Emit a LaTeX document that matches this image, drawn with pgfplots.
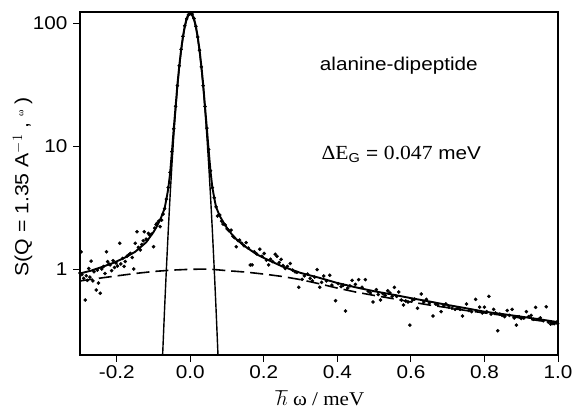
\documentclass[border=0pt]{standalone}
\usepackage{fontspec}
\setmainfont{Liberation Sans}[FakeStretch=1.12]
\newfontfamily\tnr{Liberation Serif}[FakeStretch=1.08]
\usepackage{pgfplots}
\pgfplotsset{compat=1.18}

% measured points
\pgfplotstableread{
x y
-0.300 0.93
-0.297 1.38
-0.295 0.90
-0.290 0.84
-0.286 0.56
-0.283 0.88
-0.280 0.81
-0.276 1.01
-0.273 0.86
-0.270 1.16
-0.265 0.80
-0.262 0.95
-0.256 0.675
-0.253 0.98
-0.250 0.77
-0.245 0.635
-0.241 1.00
-0.236 1.05
-0.232 0.92
-0.228 1.38
-0.225 1.15
-0.221 1.10
-0.218 1.08
-0.214 0.97
-0.210 1.17
-0.206 1.03
-0.202 1.12
-0.198 1.06
-0.192 1.62
-0.189 1.10
-0.184 1.22
-0.180 1.05
-0.177 1.15
-0.172 1.27
-0.168 1.30
-0.163 1.34
-0.158 1.24
-0.154 1.00
-0.150 1.62
-0.145 2.01
-0.141 1.50
-0.136 1.43
-0.132 1.58
-0.128 1.70
-0.125 2.01
-0.120 1.75
-0.118 1.72
-0.114 1.95
-0.111 1.89
-0.106 1.92
-0.100 1.52
-0.097 2.15
-0.093 2.30
-0.091 2.35
-0.086 2.45
-0.082 2.21
-0.078 2.50
-0.074 2.80
-0.070 3.1
-0.065 3.7
-0.060 4.6
-0.055 6.1
-0.050 9.0
-0.045 13.8
-0.040 21
-0.035 31
-0.030 45
-0.025 61
-0.020 78
-0.015 95
-0.010 108
-0.005 117
0.000 121
0.005 118
0.010 109
0.015 94
0.020 77
0.025 60
0.030 44
0.035 31
0.040 21
0.045 14
0.050 9.4
0.055 6.3
0.060 4.6
0.065 3.8
0.070 3.2
0.074 2.70
0.080 2.75
0.085 2.45
0.089 2.32
0.095 2.28
0.100 2.12
0.105 2.05
0.111 2.07
0.116 1.85
0.120 1.80
0.125 1.52
0.130 1.70
0.134 1.72
0.140 1.62
0.146 1.55
0.152 1.64
0.158 1.48
0.163 1.08
0.168 1.08
0.174 1.38
0.180 1.33
0.189 1.45
0.195 1.27
0.201 1.34
0.207 1.18
0.213 1.08
0.218 1.20
0.224 1.15
0.231 1.32
0.236 1.27
0.242 1.13
0.247 1.20
0.252 1.07
0.258 1.01
0.264 1.05
0.272 1.11
0.278 0.98
0.285 0.95
0.290 0.94
0.295 0.71
0.304 0.825
0.310 0.88
0.319 0.91
0.326 0.84
0.332 0.80
0.338 0.86
0.345 0.99
0.352 0.71
0.357 0.78
0.363 0.877
0.370 0.80
0.379 0.89
0.385 0.74
0.395 0.553
0.402 0.76
0.410 0.72
0.416 0.74
0.422 0.456
0.428 0.70
0.434 0.73
0.440 0.81
0.449 0.75
0.458 0.82
0.467 0.71
0.476 0.82
0.484 0.66
0.490 0.64
0.497 0.54
0.506 0.68
0.511 0.62
0.517 0.56
0.524 0.63
0.530 0.61
0.537 0.666
0.543 0.64
0.549 0.60
0.555 0.71
0.561 0.60
0.567 0.65
0.574 0.56
0.580 0.51
0.586 0.55
0.592 0.54
0.597 0.35
0.604 0.56
0.610 0.57
0.618 0.48
0.628 0.626
0.635 0.54
0.642 0.567
0.650 0.53
0.660 0.415
0.667 0.52
0.673 0.51
0.682 0.45
0.689 0.50
0.695 0.52
0.703 0.49
0.712 0.48
0.720 0.47
0.727 0.48
0.734 0.47
0.740 0.415
0.751 0.52
0.758 0.46
0.765 0.45
0.776 0.567
0.787 0.49
0.794 0.44
0.800 0.49
0.806 0.45
0.812 0.60
0.818 0.43
0.825 0.47
0.830 0.44
0.836 0.315
0.842 0.43
0.848 0.42
0.855 0.41
0.862 0.46
0.868 0.42
0.875 0.47
0.881 0.40
0.887 0.35
0.894 0.41
0.900 0.397
0.907 0.40
0.914 0.45
0.920 0.41
0.927 0.42
0.933 0.39
0.939 0.488
0.946 0.39
0.952 0.40
0.960 0.38
0.968 0.494
0.974 0.37
0.980 0.357
0.986 0.36
0.990 0.36
0.996 0.37
0.999 0.36
}\datatab

% total fit
\pgfplotstableread{
x y
-0.30 0.92
-0.27 0.97
-0.24 1.04
-0.21 1.12
-0.18 1.23
-0.15 1.38
-0.12 1.65
-0.10 2.0
-0.09 2.25
-0.08 2.6
-0.07 3.1
-0.065 3.7
-0.06 4.5
-0.055 6.0
-0.05 9.0
-0.045 14
-0.04 21
-0.035 32
-0.03 45
-0.025 61
-0.02 78
-0.015 95
-0.01 109
-0.005 118
0.0 121
0.005 118
0.01 109
0.015 95
0.02 78
0.025 61
0.03 45
0.035 32
0.04 21
0.045 14
0.05 9.2
0.055 6.2
0.06 4.6
0.065 3.8
0.07 3.2
0.08 2.7
0.09 2.4
0.10 2.15
0.12 1.8
0.15 1.52
0.18 1.32
0.20 1.23
0.25 1.05
0.30 0.93
0.35 0.85
0.40 0.77
0.45 0.71
0.50 0.66
0.55 0.62
0.60 0.58
0.65 0.545
0.70 0.51
0.75 0.48
0.80 0.45
0.85 0.43
0.90 0.41
0.95 0.39
1.00 0.37
}\fittab

% elastic (resolution) component
\pgfplotstableread{
x y
-0.085 0.035
-0.08 0.0874
-0.075 0.210
-0.07 0.473
-0.065 1.01
-0.06 2.05
-0.055 3.92
-0.05 7.07
-0.045 12.1
-0.04 19.5
-0.035 29.7
-0.03 42.8
-0.025 58.4
-0.02 75.2
-0.015 91.6
-0.01 105.4
-0.005 114.7
0.0 118
0.005 114.7
0.01 105.4
0.015 91.6
0.02 75.2
0.025 58.4
0.03 42.8
0.035 29.7
0.04 19.5
0.045 12.1
0.05 7.07
0.055 3.92
0.06 2.05
0.065 1.01
0.07 0.473
0.075 0.210
0.08 0.0874
0.085 0.035
}\elastab

% broad component
\pgfplotstableread{
x y
-0.30 0.80
-0.25 0.84
-0.20 0.88
-0.15 0.92
-0.10 0.955
-0.05 0.98
0.00 0.995
0.05 1.0
0.10 0.97
0.15 0.945
0.20 0.91
0.25 0.87
0.30 0.82
0.35 0.76
0.40 0.70
0.45 0.65
0.50 0.61
0.55 0.575
0.60 0.54
0.65 0.51
0.70 0.485
0.75 0.46
0.80 0.44
0.85 0.42
0.90 0.40
0.95 0.38
1.00 0.365
}\broadtab

\begin{document}
\begin{tikzpicture}
\begin{axis}[
  name=ax,
  scale only axis,
  width=478pt, height=343pt,
  xmin=-0.3, xmax=1.0,
  ymode=log, ymin=0.2, ymax=123,
  xtick={-0.2,0,0.2,0.4,0.6,0.8,1.0},
  xticklabels={-0.2,0.0,0.2,0.4,0.6,0.8,1.0},
  ytick={1,10,100},
  yticklabels={1,10,100},
  yminorticks=false,
  tick align=outside,
  xtick pos=bottom, ytick pos=left,
  major tick length=7pt,
  tick style={black, line width=1pt},
  axis line style={line width=1.2pt},
  ticklabel style={font=\fontsize{18.5}{18.5}\selectfont},
  yticklabel style={xshift=-2pt},
  xlabel={$\hbar$ {\tnr ω / meV}},
  xlabel style={font=\fontsize{19.5}{19.5}\selectfont\tnr,
    at={(rel axis cs:0.502,-0.146)}, anchor=base},
  ylabel={S(Q = 1.35 A$^{-1}$ , \raisebox{5pt}{\tnr\small ω} )},
  ylabel style={font=\fontsize{19}{19}\selectfont,
    at={(rel axis cs:-0.12,0.49)}, anchor=center},
  clip=true,
]
\addplot[only marks, mark=*, mark size=1.6pt, black] table {\datatab};
\addplot[black, line width=1.9pt] table {\fittab};
\addplot[black, line width=1.4pt] table {\elastab};
\addplot[black, line width=1.6pt, dash pattern=on 13pt off 6pt] table {\broadtab};
\node[font=\fontsize{18.5}{18.5}\selectfont, anchor=base] at (rel axis cs:0.667,0.828) {alanine-dipeptide};
\node[font=\fontsize{18.5}{18.5}\selectfont, anchor=base] at (rel axis cs:0.672,0.569)
  {{\tnr\fontsize{20}{20}\selectfont ΔE}\textsubscript{G} = {\tnr\fontsize{20}{20}\selectfont 0.047} meV};
\end{axis}
\pgfresetboundingbox
\path[use as bounding box] ([shift={(-80pt,-57pt)}]ax.south west) rectangle ([shift={(16pt,12pt)}]ax.north east);
\end{tikzpicture}
\end{document}
